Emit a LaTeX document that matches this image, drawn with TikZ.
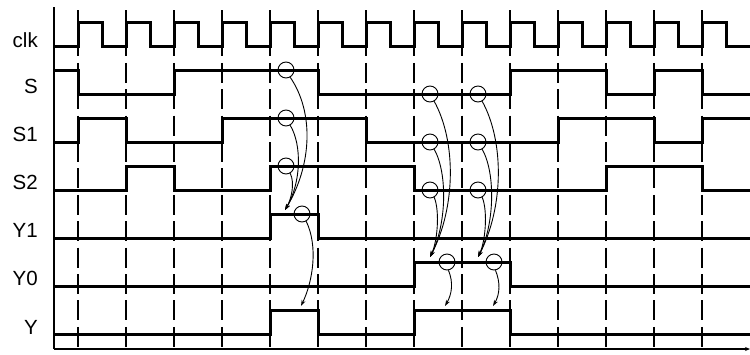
\documentclass[tikz,border=0pt]{standalone}
\usepackage{fontspec}
\setmainfont{Liberation Sans}
\usetikzlibrary{arrows.meta}
\tikzset{
  sig/.style={line width=3pt, line join=miter, line cap=rect},
  gridline/.style={line width=1.1pt, dash pattern=on 20pt off 6.4pt},
  axisline/.style={line width=1.2pt},
  ring/.style={circle, draw, line width=0.9pt, minimum size=16pt, inner sep=0pt},
  curve/.style={line width=0.9pt, -{Stealth[length=6pt,width=4pt]}},
  lbl/.style={anchor=base east, inner sep=0pt, font=\fontsize{20.5}{22}\selectfont}
}
\begin{document}
\begin{tikzpicture}[x=1pt,y=1pt]
\useasboundingbox (0,0) rectangle (750,-354);
% dashed clock-edge lines
\foreach \k in {0,...,13} {
  \draw[gridline] ({78+48*\k},-10) -- ({78+48*\k},-350);
}
% axes
\draw[axisline] (54,-7) -- (54,-349);
\coordinate (o) at (54,-349);
\coordinate (xend) at (750,-349);
\draw[axisline,-{Stealth[length=5pt,width=4pt]}] (o) -- (xend);
% labels
\node[lbl] (lclk) at (38,-47) {clk};
\node[lbl] (lS)   at (38,-93) {S};
\node[lbl] (lS1)  at (38,-141) {S1};
\node[lbl] (lS2)  at (38,-189) {S2};
\node[lbl] (lY1)  at (38,-237) {Y1};
\node[lbl] (lY0)  at (38,-285) {Y0};
\node[lbl] (lY)   at (38,-334) {Y};
% clk
\draw[sig] (54,-46) -- (78,-46)
  \foreach \k in {0,...,13} { -- ++(0,24) -- ++(24,0) -- ++(0,-24) -- ++(24,0) };
% S
\draw[sig] (54,-70) -- (78,-70) -- (78,-94) -- (174,-94) -- (174,-70) -- (318,-70) -- (318,-94)
  -- (510,-94) -- (510,-70) -- (606,-70) -- (606,-94) -- (654,-94) -- (654,-70) -- (702,-70)
  -- (702,-94) -- (750,-94);
% S1
\draw[sig] (54,-142) -- (78,-142) -- (78,-118) -- (126,-118) -- (126,-142) -- (222,-142)
  -- (222,-118) -- (366,-118) -- (366,-142) -- (558,-142) -- (558,-118) -- (654,-118)
  -- (654,-142) -- (702,-142) -- (702,-118) -- (750,-118);
% S2
\draw[sig] (54,-190) -- (126,-190) -- (126,-166) -- (174,-166) -- (174,-190) -- (270,-190)
  -- (270,-166) -- (414,-166) -- (414,-190) -- (606,-190) -- (606,-166) -- (702,-166)
  -- (702,-190) -- (750,-190);
% Y1
\draw[sig] (54,-238) -- (270,-238) -- (270,-214) -- (318,-214) -- (318,-238) -- (750,-238);
% Y0
\draw[sig] (54,-286) -- (414,-286) -- (414,-262) -- (510,-262) -- (510,-286) -- (750,-286);
% Y
\draw[sig] (54,-334) -- (270,-334) -- (270,-310) -- (318,-310) -- (318,-334) -- (414,-334)
  -- (414,-310) -- (510,-310) -- (510,-334) -- (750,-334);
% circles
\node[ring] (cSa)  at (286,-70) {};
\node[ring] (cS1a) at (286,-118) {};
\node[ring] (cS2a) at (286,-166) {};
\node[ring] (cY1)  at (302,-214) {};
\node[ring] (cSb)  at (430,-94) {};
\node[ring] (cS1b) at (430,-142) {};
\node[ring] (cS2b) at (430,-190) {};
\node[ring] (cSc)  at (478,-94) {};
\node[ring] (cS1c) at (478,-142) {};
\node[ring] (cS2c) at (478,-190) {};
\node[ring] (cY0b) at (447,-262) {};
\node[ring] (cY0c) at (494,-262) {};
% arrow tips
\coordinate (tA) at (285,-210);
\coordinate (tD) at (301,-306);
\coordinate (tB) at (430,-257);
\coordinate (tC) at (478,-257);
\coordinate (tE) at (445,-306);
\coordinate (tF) at (493,-306);
% curves
\draw[curve] (cSa.-60)  .. controls +(24,-35) and +(27,45) .. (tA);
\draw[curve] (cS1a.-60) .. controls +(12,-20) and +(16,27) .. (tA);
\draw[curve] (cS2a.-60) .. controls +(5,-10) and +(6,10) .. (tA);
\draw[curve] (cY1.-60)  .. controls +(12,-25) and +(12,25) .. (tD);
\draw[curve] (cSb.-60)  .. controls +(22,-40) and +(26,50) .. (tB);
\draw[curve] (cS1b.-60) .. controls +(14,-25) and +(16,31) .. (tB);
\draw[curve] (cS2b.-60) .. controls +(6,-15) and +(7,14) .. (tB);
\draw[curve] (cSc.-60)  .. controls +(22,-40) and +(26,50) .. (tC);
\draw[curve] (cS1c.-60) .. controls +(14,-25) and +(16,31) .. (tC);
\draw[curve] (cS2c.-60) .. controls +(6,-15) and +(7,14) .. (tC);
\draw[curve] (cY0b.-80) .. controls +(5,-12) and +(7,12) .. (tE);
\draw[curve] (cY0c.-80) .. controls +(5,-12) and +(7,12) .. (tF);
\end{tikzpicture}
\end{document}
